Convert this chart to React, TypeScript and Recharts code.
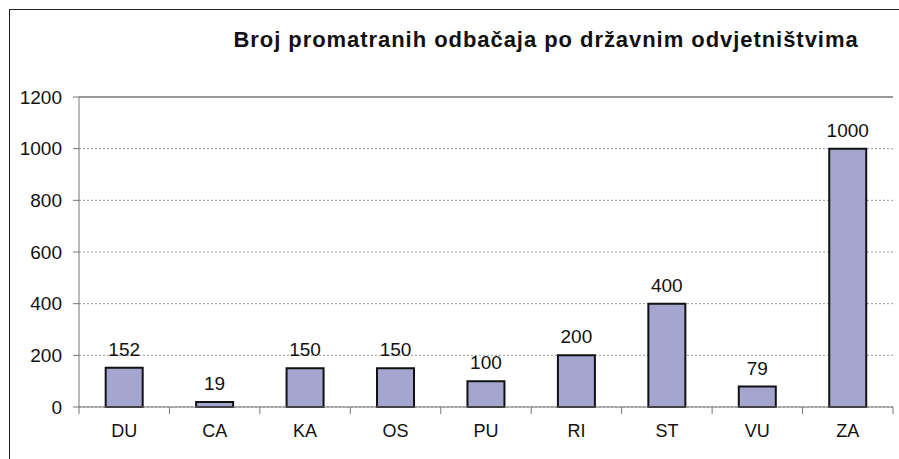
import React from "react";
import { Bar, BarChart, CartesianGrid, LabelList, ReferenceLine, XAxis, YAxis } from "recharts";

const title = "Broj promatranih odbačaja po državnim odvjetništvima";
const offices = ["DU", "CA", "KA", "OS", "PU", "RI", "ST", "VU", "ZA"];
const counts = [152, 19, 150, 150, 100, 200, 400, 79, 1000];
const yTicks = [0, 200, 400, 600, 800, 1000, 1200];

const data = offices.map((name, i) => ({ name, count: counts[i] }));

const FONT = "'Liberation Sans', Arial, sans-serif";

// category labels with tick marks on the category borders, like the Excel original
function EdgeTick(props: any) {
  const { x, y, payload, index } = props;
  const half = payload && payload.offset ? payload.offset : 45.2;
  return (
    <g>
      <line x1={x - half} y1={y - 8} x2={x - half} y2={y - 1} stroke="#777" />
      {index === offices.length - 1 && (
        <line x1={x + half} y1={y - 8} x2={x + half} y2={y - 1} stroke="#777" />
      )}
      <text x={x} y={y + 9} dy="0.71em" textAnchor="middle" fontSize={18} fill="#111" fontFamily={FONT}>
        {payload.value}
      </text>
    </g>
  );
}

export default function App() {
  return (
    <div style={{ position: "absolute", left: 0, top: 0, width: 899, height: 459, background: "#fff", overflow: "hidden" }}>
      <div style={{ position: "absolute", left: 9, top: 9, right: 0, bottom: 0, borderLeft: "1px solid #222", borderTop: "1px solid #222" }} />
      <div
        style={{
          position: "absolute",
          left: 146,
          width: 800,
          top: 27,
          textAlign: "center",
          fontFamily: FONT,
          fontWeight: "bold",
          fontSize: 22,
          letterSpacing: 0.95,
          color: "#111",
          whiteSpace: "nowrap",
        }}
      >
        {title}
      </div>
      <BarChart
        width={899}
        height={459}
        data={data}
        margin={{ top: 97, right: 6, bottom: 22, left: 9 }}
        barCategoryGap="29.5%"
        style={{ position: "absolute", left: 0, top: 0 }}
      >
        <CartesianGrid vertical={false} stroke="#999" strokeDasharray="2 2" />
        <XAxis
          dataKey="name"
          height={30}
          tickLine={false}
          axisLine={{ stroke: "#777" }}
          tick={<EdgeTick />}
          interval={0}
        />
        <YAxis
          domain={[0, 1200]}
          ticks={yTicks}
          width={70}
          tickSize={6}
          tickMargin={11}
          tickLine={{ stroke: "#777" }}
          axisLine={{ stroke: "#777" }}
          tick={{ fontSize: 19, fill: "#111", fontFamily: FONT }}
        />
        <YAxis
          yAxisId="frame"
          orientation="right"
          domain={[0, 1200]}
          width={0}
          tick={false}
          tickLine={false}
          axisLine={{ stroke: "#999", strokeWidth: 2 }}
        />
        <ReferenceLine y={1200} stroke="#999" strokeWidth={2} />
        <Bar dataKey="count" fill="#a4a6cf" stroke="#111" strokeWidth={2} isAnimationActive={false}>
          <LabelList dataKey="count" position="top" offset={12} fontSize={19} fill="#111" fontFamily={FONT} />
        </Bar>
      </BarChart>
    </div>
  );
}
